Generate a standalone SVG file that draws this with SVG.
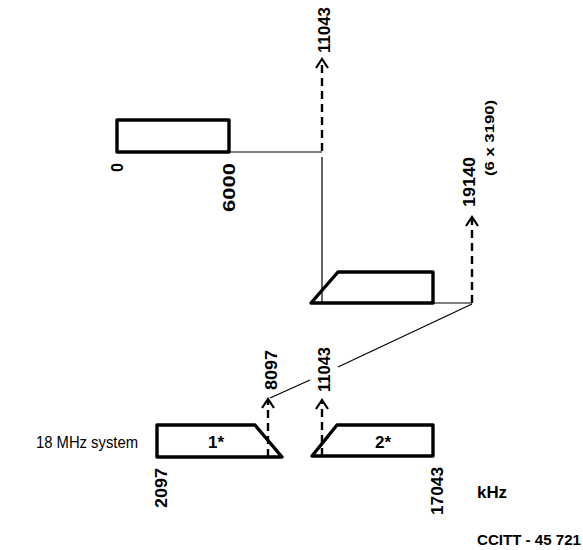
<svg xmlns="http://www.w3.org/2000/svg" width="583" height="550" viewBox="0 0 583 550">
<style>
.band{fill:none;stroke:#000;stroke-width:3.4;stroke-linejoin:round}
.thin{fill:none;stroke:#000;stroke-width:1.2}
.dash{fill:none;stroke:#000;stroke-width:2.4;stroke-dasharray:8 5}
.head{fill:none;stroke:#000;stroke-width:2.2;stroke-linejoin:miter}
.lbl{font-family:"Liberation Sans",Arial,sans-serif;font-weight:bold;font-size:16px;fill:#000}
.sm{font-family:"Liberation Sans",Arial,sans-serif;font-weight:bold;font-size:12px;fill:#000}
.reg{font-family:"Liberation Sans",Arial,sans-serif;font-size:16.5px;fill:#000}
</style>
<rect width="583" height="550" fill="#fff"/>
<g id="band-baseband">
<rect class="band" x="117" y="120" width="112" height="32"/>
<text class="lbl" transform="translate(123,172) rotate(-90)" textLength="9" lengthAdjust="spacingAndGlyphs">0</text>
<text class="lbl" transform="translate(235,212) rotate(-90)" textLength="49" lengthAdjust="spacingAndGlyphs">6000</text>
</g>
<g id="band-middle">
<polygon class="band" points="311,303 338,272 433,272 433,303"/>
</g>
<g id="band-1">
<polygon class="band" points="157,425 255,425 282,457 157,457"/>
<text class="lbl" x="216" y="448" text-anchor="middle" style="font-size:17px">1*</text>
<text class="reg" x="36" y="448" textLength="102" lengthAdjust="spacingAndGlyphs">18 MHz system</text>
<text class="lbl" transform="translate(167,508) rotate(-90)" textLength="40" lengthAdjust="spacingAndGlyphs">2097</text>
</g>
<g id="band-2">
<polygon class="band" points="312,456 337,425 433,425 433,456"/>
<text class="lbl" x="383" y="448" text-anchor="middle" style="font-size:17px">2*</text>
<text class="lbl" transform="translate(443,515) rotate(-90)" textLength="48" lengthAdjust="spacingAndGlyphs">17043</text>
</g>
<g id="connectors">
<polyline class="thin" points="229,152 322,152"/>
<line class="thin" x1="322" y1="157" x2="322" y2="303"/>
<line class="dash" x1="322" y1="151" x2="322" y2="60"/>
<polyline class="head" points="316,68 322,59 328,68"/>
<line class="thin" x1="433" y1="303" x2="472" y2="303"/>
<line class="dash" x1="472" y1="303" x2="472" y2="218"/>
<polyline class="head" points="466,226 472,217 478,226"/>
<line class="thin" x1="472" y1="304" x2="338" y2="367"/>
<line class="thin" x1="310" y1="380" x2="270" y2="398"/>
<line class="dash" x1="268" y1="457" x2="268" y2="400"/>
<polyline class="head" points="262,408 268,399 274,408"/>
<line class="dash" x1="322" y1="456" x2="322" y2="401"/>
<polyline class="head" points="316,409 322,400 328,409"/>
</g>
<g id="labels">
<text class="lbl" transform="translate(330,53) rotate(-90)" textLength="46" lengthAdjust="spacingAndGlyphs">11043</text>
<text class="lbl" transform="translate(475,207) rotate(-90)" textLength="50" lengthAdjust="spacingAndGlyphs">19140</text>
<text class="sm" transform="translate(494,176) rotate(-90)" textLength="76" lengthAdjust="spacingAndGlyphs">(6 x 3190)</text>
<text class="lbl" transform="translate(277,390) rotate(-90)" textLength="40" lengthAdjust="spacingAndGlyphs">8097</text>
<text class="lbl" transform="translate(330,392) rotate(-90)" textLength="45" lengthAdjust="spacingAndGlyphs">11043</text>
<text class="lbl" x="477" y="498" textLength="30" lengthAdjust="spacingAndGlyphs">kHz</text>
<text class="lbl" x="477" y="545" style="font-size:14px" textLength="104" lengthAdjust="spacingAndGlyphs">CCITT - 45 721</text>
</g>
</svg>
